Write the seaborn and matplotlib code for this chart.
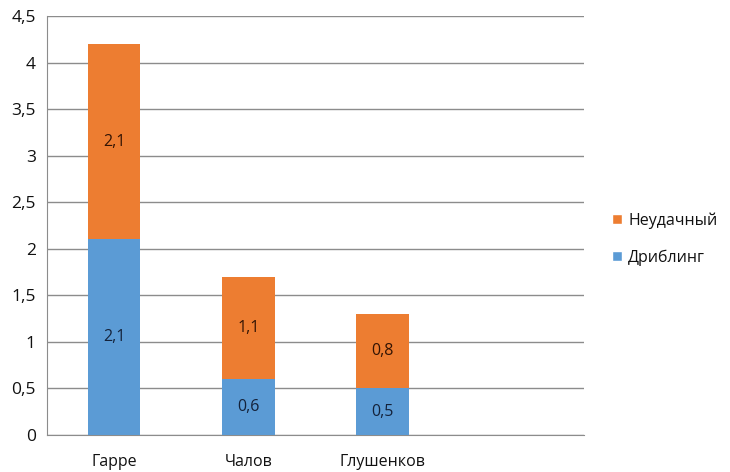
import numpy as np
import pandas as pd
import matplotlib
matplotlib.use('Agg')
import matplotlib.pyplot as plt
import seaborn as sns
from matplotlib.patches import Patch

# data (4th category slot is empty in the original chart)
players = ['Гарре', 'Чалов', 'Глушенков']
slots = players + ['']
dribbling = [2.1, 0.6, 0.5]
failed = [2.1, 1.1, 0.8]
series_names = ['Дриблинг', 'Неудачный']
y_ticks = [0, 0.5, 1, 1.5, 2, 2.5, 3, 3.5, 4, 4.5]

blue = '#5B9BD5'
orange = '#ED7D31'
grid_col = '#8C8C8C'

sns.set_style('white')
plt.rcParams['font.family'] = ['Open Sans', 'DejaVu Sans']

df = pd.DataFrame({'player': players, 'dribbling': dribbling, 'failed': failed})

fig = plt.figure(figsize=(7.3, 4.72), dpi=100)
ax = fig.add_axes([47 / 730, 37 / 472, (584 - 47) / 730, (435 - 16) / 472])

sns.barplot(data=df, x='player', y='dribbling', color=blue, width=0.39,
            saturation=1, ax=ax, order=slots, zorder=3, linewidth=0)
sns.barplot(data=df, x='player', y='failed', color=orange, width=0.39,
            saturation=1, ax=ax, order=slots, zorder=3, linewidth=0,
            bottom=df['dribbling'].values)

def fmt(v):
    return ('%g' % v).replace('.', ',')

ax.bar_label(ax.containers[0], labels=[fmt(v) for v in dribbling],
             label_type='center', fontsize=11.5, color='#14223A')
ax.bar_label(ax.containers[1], labels=[fmt(v) for v in failed],
             label_type='center', fontsize=11.5, color='#331404')

ax.set_xlim(-0.5, 3.5)
ax.set_ylim(0, 4.5)
ax.set_yticks(y_ticks)
ax.set_yticklabels([fmt(v) for v in y_ticks], fontsize=12.5, color='#111111')
ax.set_xticks([-0.5, 0.5, 1.5, 2.5, 3.5])
ax.set_xticklabels([])
ax.tick_params(axis='x', length=7, color=grid_col, width=1)
ax.tick_params(axis='y', length=6, color=grid_col, width=1, pad=2)
for i, p in enumerate(players):
    ax.text(i, -0.29, p, ha='center', va='center', fontsize=11.5,
            color='#111111', clip_on=False)
ax.yaxis.grid(True, color=grid_col, linewidth=1)
ax.set_axisbelow(True)
ax.set_xlabel('')
ax.set_ylabel('')
for side in ['top', 'right']:
    ax.spines[side].set_visible(False)
ax.spines['left'].set_color(grid_col)
ax.spines['bottom'].set_color(grid_col)

handles = [Patch(facecolor=orange, label=series_names[1]),
           Patch(facecolor=blue, label=series_names[0])]
fig.legend(handles=handles, loc='center left', bbox_to_anchor=(598 / 730, 1 - 239 / 472),
           frameon=False, fontsize=11.5, handlelength=0.6, handleheight=0.6,
           handletextpad=0.4, labelspacing=1.3, labelcolor='#111111')

fig.savefig('out.png', dpi=100)
